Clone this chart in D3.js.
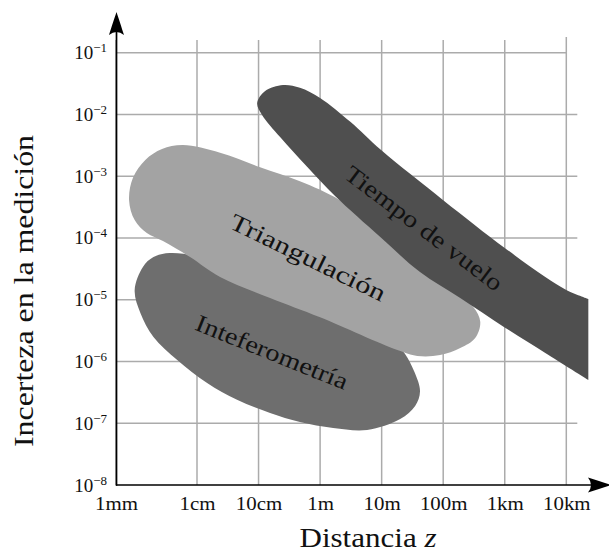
<!DOCTYPE html>
<html>
<head>
<meta charset="utf-8">
<script src="https://cdn.jsdelivr.net/npm/d3@7"></script>
<style>
  body { margin: 0; background: #fff; }
  svg { display: block; }
  svg text { font-family: "Liberation Serif", "Times New Roman", serif; }
</style>
</head>
<body>
<svg id="chart"></svg>
<script>
// decades on the axes
var distTicks = [1e-3, 1e-2, 1e-1, 1, 10, 100, 1e3, 1e4];
var distLabels = ['1mm', '1cm', '10cm', '1m', '10m', '100m', '1km', '10km'];
var errTicks = [1e-8, 1e-7, 1e-6, 1e-5, 1e-4, 1e-3, 1e-2, 1e-1];
var errExponents = [-8, -7, -6, -5, -4, -3, -2, -1];

// outlines of each region, [distance in m, uncertainty]
var interferometria = [
  [4.6e-3, 5.7e-5], [0.0112, 4.9e-5], [0.073, 2.5e-5], [0.47, 1.19e-5],
  [3.1, 5.1e-6], [16.6, 2.07e-6], [24, 1.32e-6], [34, 6.8e-7],
  [42, 3.3e-7], [35, 1.9e-7], [20, 1.17e-7], [5.8, 7.8e-8],
  [1.63, 8.4e-8], [0.47, 1.05e-7], [0.154, 1.47e-7], [0.0447, 2.4e-7],
  [0.0146, 4.5e-7], [5.7e-3, 1.06e-6], [2.9e-3, 2.5e-6], [2.0e-3, 6.1e-6],
  [1.7e-3, 1.44e-5], [2.15e-3, 3.4e-5], [2.9e-3, 4.9e-5]
];
var triangulacion = [
  [6.7e-3, 3.2e-3], [0.0237, 2.4e-3], [0.106, 1.4e-3], [0.47, 8.3e-4],
  [2.1, 4.1e-4], [20, 7.7e-5], [130, 1.55e-5], [308, 7.6e-6],
  [400, 4.4e-6], [331, 2.4e-6], [189, 1.65e-6], [89, 1.27e-6],
  [38, 1.23e-6], [18, 1.53e-6], [1, 5.2e-6], [0.154, 1.07e-5],
  [0.0237, 2.33e-5], [8.2e-3, 4.9e-5], [3.8e-3, 8.9e-5], [2.4e-3, 1.2e-4],
  [1.7e-3, 1.95e-4], [1.45e-3, 4.1e-4], [1.62e-3, 9.4e-4], [2.3e-3, 1.83e-3],
  [3.7e-3, 2.75e-3]
];
// open outline: the right end is cut straight
var tiempoDeVuelo = [
  [22800, 5.0e-7], [4560, 1.37e-6], [982, 3.6e-6], [189, 1.07e-5],
  [42, 2.8e-5], [9.5, 1.04e-4], [1.75, 4.8e-4], [0.62, 1.41e-3],
  [0.224, 4.3e-3], [0.114, 9.8e-3], [0.095, 1.53e-2], [0.128, 2.4e-2],
  [0.25, 3.0e-2], [0.47, 2.7e-2], [1, 1.85e-2], [3.1, 7.6e-3],
  [9.8, 2.65e-3], [100, 4.1e-4], [1000, 6.9e-5], [4560, 2.33e-5],
  [1e4, 1.44e-5], [22800, 1.03e-5]
];

var regionNames = ['Inteferometría', 'Triangulación', 'Tiempo de vuelo'];
var labelAt = [[0.166, 1.43e-6], [0.64, 4.9e-5], [49, 1.45e-4]];
var labelAngle = [22, 26, 37];

var width = 609, height = 553;
var font = '"Liberation Serif", "Times New Roman", serif';

var svg = d3.select('#chart')
    .attr('width', width)
    .attr('height', height)
    .attr('font-family', font);

// the first decade is drawn wider than the others
var x0 = 116, firstStep = 81, step = 61.55;
var x = d3.scaleLog()
    .domain(distTicks)
    .range(distTicks.map((d, i) => i == 0 ? x0 : x0 + firstStep + (i - 1) * step));
var y = d3.scaleLog()
    .domain([1e-8, 1e-1])
    .range([485, 52.7]);

// stretch text a bit, the original font is wider than ours
function widen(sel, k) {
  sel.each(function() {
    var n = this.getComputedTextLength();
    d3.select(this).attr('textLength', n * k).attr('lengthAdjust', 'spacingAndGlyphs');
  });
}

// grid
var grid = svg.append('g')
    .attr('stroke', '#ababab')
    .attr('stroke-width', 1.5);

grid.selectAll('line.v')
    .data(distTicks)
    .enter()
    .append('line')
    .attr('x1', d => x(d))
    .attr('x2', d => x(d))
    .attr('y1', d => d == 1e4 ? 37 : 40)
    .attr('y2', y(1e-8));

grid.selectAll('line.h')
    .data(errTicks.slice(1))
    .enter()
    .append('line')
    .attr('x1', x(1e-3))
    .attr('x2', d => d == 1e-1 ? x(1e4) : x(1e4) + 11)
    .attr('y1', d => y(d))
    .attr('y2', d => y(d));

// regions
var closedLine = d3.line()
    .x(d => x(d[0]))
    .y(d => y(d[1]))
    .curve(d3.curveCatmullRomClosed.alpha(0.5));
var openLine = d3.line()
    .x(d => x(d[0]))
    .y(d => y(d[1]))
    .curve(d3.curveCatmullRom.alpha(0.5));

svg.append('path')
    .attr('d', closedLine(interferometria))
    .attr('fill', '#6e6e6e');
svg.append('path')
    .attr('d', closedLine(triangulacion))
    .attr('fill', '#a3a3a3');
svg.append('path')
    .attr('d', openLine(tiempoDeVuelo) + 'Z')
    .attr('fill', '#4f4f4f');

// region labels
var labelWidth = [162, 170, 191];
svg.selectAll('text.region')
    .data(regionNames)
    .enter()
    .append('text')
    .attr('class', 'region')
    .attr('transform', (d, i) => 'translate(' + x(labelAt[i][0]) + ',' + y(labelAt[i][1]) + ') rotate(' + labelAngle[i] + ')')
    .attr('text-anchor', 'middle')
    .attr('dy', '0.35em')
    .attr('font-family', font)
    .attr('font-size', 24)
    .attr('fill', '#111')
    .attr('textLength', (d, i) => labelWidth[i])
    .attr('lengthAdjust', 'spacingAndGlyphs')
    .text(d => d);

// x axis
var xAxis = d3.axisBottom(x)
    .tickValues(distTicks)
    .tickSize(0)
    .tickPadding(12)
    .tickFormat((d, i) => distLabels[i]);

var gx = svg.append('g')
    .attr('transform', 'translate(0,' + y(1e-8) + ')')
    .call(xAxis)
    .attr('font-family', font)
    .attr('font-size', 19);
gx.select('.domain').remove();
gx.selectAll('text')
    .attr('fill', '#111')
    .call(widen, 1.1);

// y axis
var yAxis = d3.axisLeft(y)
    .tickValues(errTicks)
    .tickSize(0)
    .tickFormat('');

var gy = svg.append('g')
    .attr('transform', 'translate(' + x0 + ',0)')
    .call(yAxis)
    .attr('font-family', font);
gy.select('.domain').remove();
gy.selectAll('.tick text')
    .attr('x', -9)
    .attr('y', 6)
    .attr('dy', null)
    .attr('text-anchor', 'end')
    .attr('fill', '#111')
    .each(function(d, i) {
      var t = d3.select(this);
      t.append('tspan').attr('font-size', 19).text('10');
      t.append('tspan').attr('font-size', 13).attr('dy', -7).text('\u2212' + (-errExponents[i]));
    });

// axis lines with arrows
svg.append('line')
    .attr('x1', x0 + 0.5).attr('x2', x0 + 0.5)
    .attr('y1', y(1e-8) + 0.8).attr('y2', 20)
    .attr('stroke', '#000')
    .attr('stroke-width', 1.7);
svg.append('line')
    .attr('x1', x0).attr('x2', 598)
    .attr('y1', y(1e-8)).attr('y2', y(1e-8))
    .attr('stroke', '#000')
    .attr('stroke-width', 1.7);

var arrow = 'M0,0 C-6,-2 -15,-5 -23,-7.5 Q-17,0 -23,7.5 C-15,5 -6,2 0,0 Z';
svg.append('path')
    .attr('d', arrow)
    .attr('transform', 'translate(' + (x0 + 0.5) + ',12) rotate(-90)')
    .attr('fill', '#000');
svg.append('path')
    .attr('d', arrow)
    .attr('transform', 'translate(611,' + y(1e-8) + ')')
    .attr('fill', '#000');

// axis titles
svg.append('text')
    .attr('transform', 'translate(33,291) rotate(-90)')
    .attr('text-anchor', 'middle')
    .attr('font-family', font)
    .attr('font-size', 27)
    .attr('fill', '#111')
    .attr('textLength', 312)
    .attr('lengthAdjust', 'spacingAndGlyphs')
    .text('Incerteza en la medición');

var xt = svg.append('text')
    .attr('x', 368)
    .attr('y', 547)
    .attr('text-anchor', 'middle')
    .attr('font-family', font)
    .attr('font-size', 27)
    .attr('fill', '#111')
    .attr('textLength', 137)
    .attr('lengthAdjust', 'spacingAndGlyphs');
xt.append('tspan').text('Distancia ');
xt.append('tspan').attr('font-style', 'italic').text('z');
</script>
</body>
</html>
